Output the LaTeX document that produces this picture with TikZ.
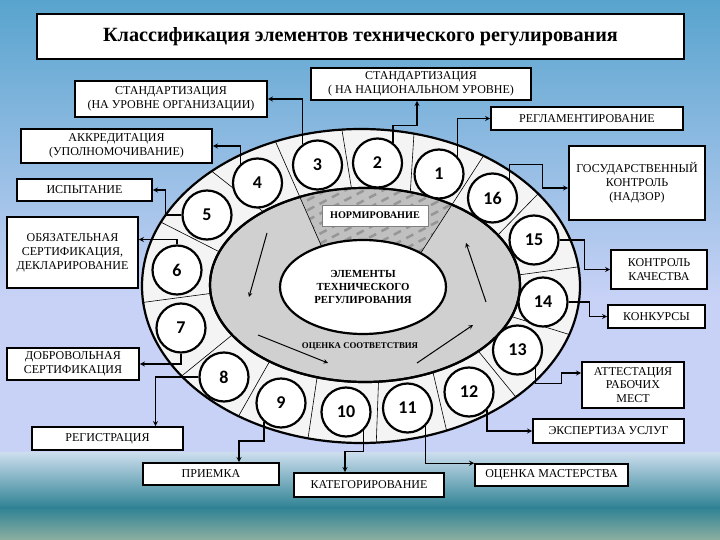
\documentclass[tikz,border=0pt]{standalone}
\usepackage{fontspec}
\setmainfont{Liberation Serif}
\newfontfamily\numfont{Carlito}
\usepackage{tikz}
\usetikzlibrary{arrows,shapes,calc}
\definecolor{azulCielo}{RGB}{88,164,206}
\definecolor{lavanda}{RGB}{200,210,246}
\definecolor{lavandaMar}{RGB}{205,222,238}
\definecolor{mar}{RGB}{46,130,148}
\definecolor{arena}{RGB}{140,175,160}
\definecolor{anillo}{RGB}{244,244,244}
\definecolor{grisAnillo}{RGB}{208,208,208}
\definecolor{grisRayas}{RGB}{192,192,192}
\definecolor{rayas}{RGB}{150,150,150}
\tikzstyle{caja}  =[rectangle, draw, fill=white, line width=1.6pt,
                    inner sep=2pt, align=center,
                    font=\fontsize{12}{14}\selectfont]
\tikzstyle{num}   =[circle, draw, fill=white, line width=2.2pt,
                    minimum size=49pt, inner sep=0pt,
                    font=\numfont\bfseries\fontsize{18}{18}\selectfont]
\tikzstyle{link}  =[->, >=stealth, line width=1.3pt]
\tikzstyle{flecha}=[->, >=stealth, line width=1pt]
\tikzstyle{sector}=[line width=0.6pt]
\tikzstyle{borde} =[line width=2.2pt]

\begin{document}
\begin{tikzpicture}[x=1pt,y=-1pt]
    \useasboundingbox (0,0) rectangle (720,540);

    % fondo
    \shade[top color=azulCielo, bottom color=lavanda] (0,0) rectangle (720,300);
    \fill[lavanda] (0,299) rectangle (720,453);
    \shade[top color=lavandaMar, bottom color=mar] (0,452) rectangle (720,508);
    \shade[top color=mar, bottom color=arena] (0,507) rectangle (720,540);

    % anillos
    \coordinate (O) at (361,286);
    \coordinate (I) at (365,285);
    \coordinate (E) at (363,287);
    \filldraw[borde, fill=anillo] (O) ellipse [x radius=219, y radius=157];
    \foreach \a/\b in {95/95,76/73,36/31,7/6,-18/-19,-45/-43,-67/-64,-86/-85,
        -104/-108,-124/-128,-145/-149,-174/-175,156/160,133/131}
        \draw[sector] ($(I)+({155*cos(\b)},{-97*sin(\b)})$) --
                      ($(O)+({219*cos(\a)},{-157*sin(\a)})$);
    \filldraw[borde, fill=grisAnillo] (I) ellipse [x radius=155, y radius=97];

    % sector del normirovanie
    \coordinate (n1o) at ($(O)+({219*cos(113)},{-157*sin(113)})$);
    \coordinate (n1i) at ($(E)+({83*cos(120)},{-47*sin(120)})$);
    \coordinate (n2o) at ($(O)+({219*cos(56)},{-157*sin(56)})$);
    \coordinate (n2i) at ($(E)+({83*cos(46)},{-47*sin(46)})$);
    \begin{scope}
        \clip (I) ellipse [x radius=155, y radius=97];
        \clip (n1o) -- (n1i) -- (n2i) -- (n2o) -- cycle;
        \fill[grisRayas] (250,130) rectangle (500,300);
        \foreach \k in {0,...,20}
            \draw[rayas, line width=2.5pt, dash pattern=on 8pt off 6pt]
                (270,180+10*\k) -- ++(220,-116);
    \end{scope}
    \draw[borde] (I) ellipse [x radius=155, y radius=97];
    \draw[sector] (n1o) -- (n1i);
    \draw[sector] (n2o) -- (n2i);
    \filldraw[borde, fill=white] (E) ellipse [x radius=83, y radius=47];

    \draw [flecha] (267,233) -- (249,297);
    \draw [flecha] (258,335) -- (328,363);
    \draw [flecha] (417,363) -- (473,325);
    \draw [flecha] (486,302) -- (466,243);

    \draw (E) node(elem)[align=center,
        font=\bfseries\fontsize{10.8}{13}\selectfont]
        {ЭЛЕМЕНТЫ\\ТЕХНИЧЕСКОГО\\РЕГУЛИРОВАНИЯ};
    \draw (375,215.5) node(norm)[draw=gray, fill=white, line width=0.6pt,
        minimum width=106pt, minimum height=21pt,
        font=\bfseries\fontsize{10.2}{11}\selectfont]{НОРМИРОВАНИЕ};
    \draw (360,347) node(ocs)[font=\bfseries\fontsize{8.8}{10}\selectfont]
        {ОЦЕНКА СООТВЕТСТВИЯ};

    % circulos
    \foreach \i/\x/\y in {1/439/174,2/377.5/163,3/317.5/165,4/257.5/183,
        5/207/215,6/177/270,7/181/328,8/224/377,9/281/403,10/346/412,
        11/407.5/408,12/469/392,13/517.5/350,14/543/302,15/534/240,16/492.5/198}
        \draw (\x,\y) node(c\i)[num]{\i};

    % cajas
    \draw (360.5,36.5) node(titulo)[caja, minimum width=647pt, minimum height=45pt,
        font=\bfseries\fontsize{20.2}{22}\selectfont]
        {Классификация элементов технического регулирования};
    \draw (171,99) node(sorg)[caja, minimum width=192pt, minimum height=36pt]
        {СТАНДАРТИЗАЦИЯ\\(НА УРОВНЕ ОРГАНИЗАЦИИ)};
    \draw (421,84) node(snat)[caja, minimum width=220pt, minimum height=32pt]
        {СТАНДАРТИЗАЦИЯ\\( НА НАЦИОНАЛЬНОМ УРОВНЕ)};
    \draw (587,118.5) node(regl)[caja, minimum width=192pt, minimum height=23pt]
        {РЕГЛАМЕНТИРОВАНИЕ};
    \draw (116.5,146) node(akk)[caja, minimum width=191pt, minimum height=34pt]
        {АККРЕДИТАЦИЯ\\(УПОЛНОМОЧИВАНИЕ)};
    \draw (84.5,190) node(isp)[caja, minimum width=135pt, minimum height=22pt]
        {ИСПЫТАНИЕ};
    \draw (72.5,252.5) node(obl)[caja, minimum width=131pt, minimum height=71pt]
        {ОБЯЗАТЕЛЬНАЯ\\СЕРТИФИКАЦИЯ,\\ДЕКЛАРИРОВАНИЕ};
    \draw (73,364) node(dobr)[caja, minimum width=132pt, minimum height=32pt]
        {ДОБРОВОЛЬНАЯ\\СЕРТИФИКАЦИЯ};
    \draw (107.5,438.5) node(reg)[caja, minimum width=151pt, minimum height=23pt]
        {РЕГИСТРАЦИЯ};
    \draw (211,474) node(priem)[caja, minimum width=136pt, minimum height=22pt]
        {ПРИЕМКА};
    \draw (369,485) node(kat)[caja, minimum width=150pt, minimum height=24pt]
        {КАТЕГОРИРОВАНИЕ};
    \draw (551.5,475) node(ocm)[caja, minimum width=153pt, minimum height=22pt]
        {ОЦЕНКА МАСТЕРСТВА};
    \draw (608.5,431) node(exp)[caja, minimum width=151pt, minimum height=24pt]
        {ЭКСПЕРТИЗА УСЛУГ};
    \draw (633,385) node(att)[caja, minimum width=102pt, minimum height=46pt,
        font=\fontsize{12}{13.5}\selectfont]
        {АТТЕСТАЦИЯ\\РАБОЧИХ\\МЕСТ};
    \draw (656.5,316.5) node(konk)[caja, minimum width=97pt, minimum height=23pt]
        {КОНКУРСЫ};
    \draw (659,269.5) node(kk)[caja, minimum width=96pt, minimum height=39pt]
        {КОНТРОЛЬ\\КАЧЕСТВА};
    \draw (637,183) node(gos)[caja, minimum width=136pt, minimum height=74pt]
        {ГОСУДАРСТВЕННЫЙ\\КОНТРОЛЬ\\(НАДЗОР)};

    % conexiones
    \draw [link] (c3.126) |- (sorg.east);
    \draw [link] (c4.132) |- (akk.east);
    \draw [link] (c5.west) -- ++(-16,0) |- (isp.east);
    \draw [link] (c6.north) |- ([yshift=13pt]obl.east);
    \draw [link] (c7.south) |- (dobr.east);
    \draw [link] (c8.west) -| ([xshift=48pt]reg.north);
    \draw [link] (c9.228) -- ++(0,19) -| ([xshift=28pt]priem.north);
    \draw [link] (c10.314) -- ++(0,21) -| ([xshift=-24pt]kat.north);
    \draw [link] (c11.315) |- (ocm.north west);
    \draw [link] (c12.315) |- (exp.west);
    \draw [link] (c13.314) -- ++(0,15) -- ++(26,0) |- ([yshift=12pt]att.west);
    \draw [link] (c14.east) -- ++(21,0) |- (konk.west);
    \draw [link] (c15.east) -- ++(25,0) |- (kk.west);
    \draw [link] (c16.49) -- ++(0,-14) -- ++(33,0) |- ([yshift=-5pt]gos.west);
    \draw [link] (c1.43) |- (regl.west);
    \draw [link] (c2.53) -- ++(0,-17) -| ([xshift=-4pt]snat.south);
\end{tikzpicture}
\end{document}
